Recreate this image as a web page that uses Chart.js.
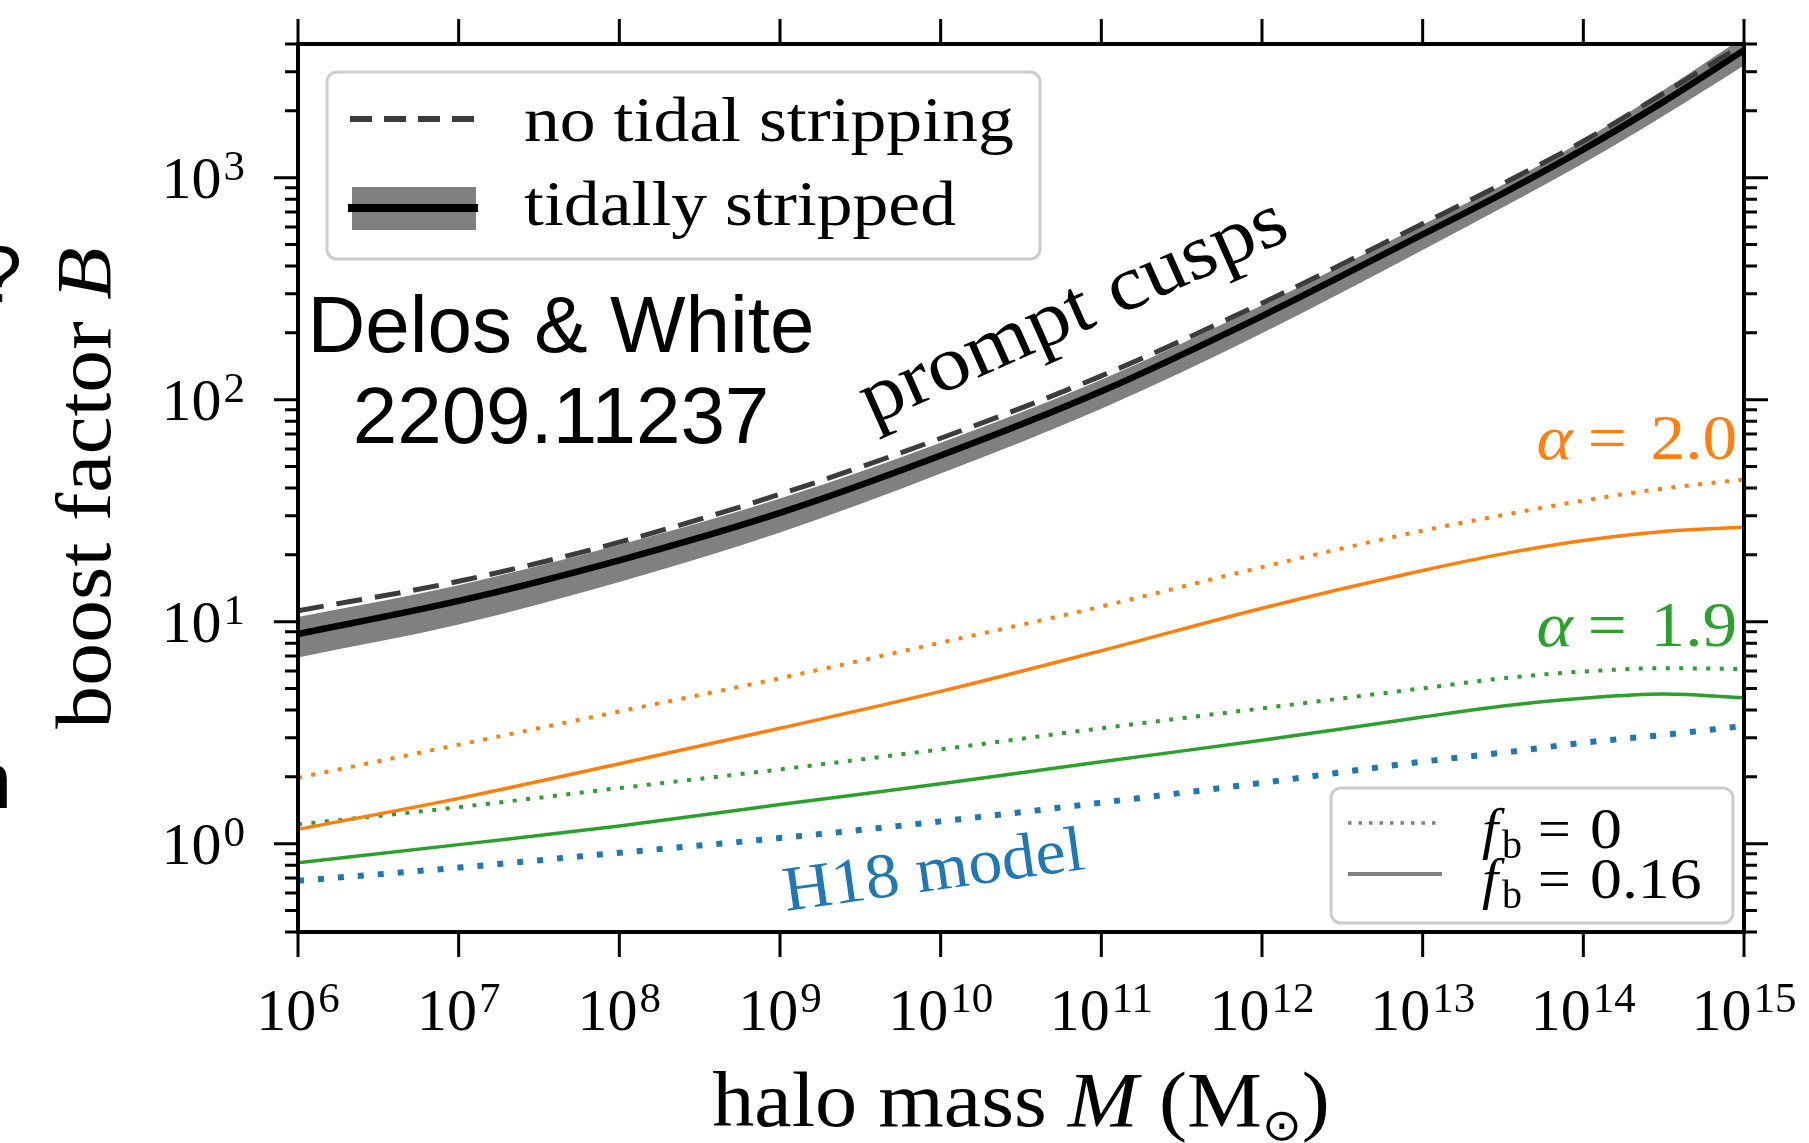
<!DOCTYPE html>
<html>
<head>
<meta charset="utf-8">
<script src="https://cdn.jsdelivr.net/npm/chart.js@4.4.1/dist/chart.umd.min.js"></script>
<style>
  html, body { margin: 0; padding: 0; background: #fff; }
  canvas { display: block; }
</style>
</head>
<body>
<canvas id="boostChart" width="1809" height="1143"></canvas>
<script>
// halo masses (Msun) where each curve is sampled
const massGrid = [1e6, 1e7, 1e8, 1e9, 1e10, 1e11, 1e12, 1e13, 3.16e13, 1e14, 3.16e14, 1e15];

// prompt cusps, no tidal stripping (dashed)
const cuspsNoStripping = [11.2, 15.2, 22.8, 37.5, 67, 128, 272, 620, 940, 1460, 2400, 4000];
// prompt cusps, tidally stripped (solid) with its spread
const cuspsStripped = [8.8, 12.4, 18.9, 30.9, 56, 109, 238, 555, 850, 1340, 2200, 3750];
const cuspsStrippedHigh = [10.5, 14.6, 22.2, 35.9, 64, 123, 266, 615, 930, 1470, 2480, 4300];
const cuspsStrippedLow = [6.9, 9.7, 15.1, 25.2, 46.5, 91, 199, 472, 735, 1160, 1900, 3200];

// alpha = 2.0, fb = 0 and fb = 0.16
const alpha20Fb0 = [1.98, 2.79, 3.94, 5.56, 8.04, 11.7, 17.6, 25.7, 30.2, 35.1, 39.8, 43.7];
const alpha20Fb16 = [1.16, 1.60, 2.29, 3.31, 4.85, 7.4, 11.5, 17.0, 20.2, 23.2, 25.5, 26.6];
// alpha = 1.9, fb = 0 and fb = 0.16
const alpha19Fb0 = [1.22, 1.46, 1.78, 2.16, 2.66, 3.31, 4.07, 5.01, 5.56, 5.96, 6.17, 6.12];
const alpha19Fb16 = [0.82, 0.99, 1.20, 1.50, 1.86, 2.34, 2.92, 3.72, 4.17, 4.52, 4.72, 4.54];
// H18 model
const h18Model = [0.68, 0.78, 0.91, 1.06, 1.26, 1.53, 1.88, 2.34, 2.57, 2.85, 3.09, 3.39];

// axis tick exponents
const massExponents = [6, 7, 8, 9, 10, 11, 12, 13, 14, 15];
const boostExponents = [0, 1, 2, 3];

const ORANGE = '#ff7f0e';
const GREEN = '#2ca02c';
const BLUE = '#1f77b4';
const SERIF = '"Liberation Serif", "DejaVu Serif", serif';
const SANS = '"Liberation Sans", Arial, sans-serif';

const pts = ys => massGrid.map((m, i) => ({ x: m, y: ys[i] }));

function curve(ys, color, width, dash, order) {
  return {
    data: pts(ys),
    borderColor: color,
    borderWidth: width,
    borderDash: dash || [],
    borderCapStyle: 'butt',
    pointRadius: 0,
    fill: false,
    cubicInterpolationMode: 'monotone',
    order: order
  };
}

// draw a row of text pieces (different fonts / baseline shifts) as one label
function drawRuns(ctx, parts, x, y, align, sx) {
  sx = sx || 1;
  let total = 0;
  parts.forEach(p => {
    ctx.font = p.font;
    p.w = ctx.measureText(p.text).width;
    total += p.w + (p.gap || 0);
  });
  let cx = align === 'center' ? -total / 2 : (align === 'right' ? -total : 0);
  ctx.save();
  ctx.translate(x, y);
  ctx.scale(sx, 1);
  ctx.textAlign = 'left';
  ctx.textBaseline = 'alphabetic';
  parts.forEach(p => {
    ctx.font = p.font;
    ctx.fillText(p.text, cx, p.dy || 0);
    cx += p.w + (p.gap || 0);
  });
  ctx.restore();
}

function powerLabel(exp) {
  return [
    { text: '10', font: '60px ' + SERIF, gap: 2 },
    { text: String(exp), font: '43px ' + SERIF, dy: -18 }
  ];
}

// f_b legend row: each piece placed at its own x
function fbRow(ctx, value, y) {
  ctx.textAlign = 'left';
  ctx.textBaseline = 'alphabetic';
  ctx.font = 'italic 58px ' + SERIF;
  ctx.fillText('f', 1482, y);
  ctx.font = '40px ' + SERIF;
  ctx.fillText('b', 1502, y + 10);
  ctx.font = '58px ' + SERIF;
  ctx.fillText('=', 1538, y);
  ctx.save();
  ctx.translate(1590, y);
  ctx.scale(1.1, 1);
  ctx.fillText(value, 0, 0);
  ctx.restore();
}

const frameAndLabels = {
  id: 'frameAndLabels',
  afterDraw(chart) {
    const ctx = chart.ctx;
    const xs = chart.scales.x;
    const ys = chart.scales.y;
    const a = chart.chartArea;
    ctx.save();

    // spines
    ctx.strokeStyle = '#000';
    ctx.lineWidth = 4;
    ctx.strokeRect(a.left, a.top, a.right - a.left, a.bottom - a.top);

    // x ticks on bottom and top
    ctx.lineWidth = 3;
    ctx.beginPath();
    massExponents.forEach(e => {
      const px = xs.getPixelForValue(Math.pow(10, e));
      ctx.moveTo(px, a.bottom); ctx.lineTo(px, a.bottom + 25);
      ctx.moveTo(px, a.top); ctx.lineTo(px, a.top - 25);
    });
    ctx.stroke();

    // y ticks, major and minor, on both sides
    ctx.beginPath();
    for (let n = -1; n <= 3; n++) {
      for (let k = 1; k <= 9; k++) {
        const v = k * Math.pow(10, n);
        if (v < ys.min * 0.999 || v > ys.max * 1.001) continue;
        const py = ys.getPixelForValue(v);
        const len = k === 1 ? 24 : 13;
        ctx.moveTo(a.left, py); ctx.lineTo(a.left - len, py);
        ctx.moveTo(a.right, py); ctx.lineTo(a.right + len, py);
      }
    }
    ctx.stroke();

    // tick labels
    ctx.fillStyle = '#000';
    massExponents.forEach(e => {
      drawRuns(ctx, powerLabel(e), xs.getPixelForValue(Math.pow(10, e)), a.bottom + 98, 'center');
    });
    boostExponents.forEach(e => {
      drawRuns(ctx, powerLabel(e), a.left - 53, ys.getPixelForValue(Math.pow(10, e)) + 20, 'right');
    });

    // axis titles
    drawRuns(ctx, [
      { text: 'halo mass ', font: '78px ' + SERIF },
      { text: 'M', font: 'italic 78px ' + SERIF },
      { text: ' (M', font: '78px ' + SERIF },
      { text: '\u2299', font: '44px "DejaVu Sans", sans-serif', dy: 14 },
      { text: ')', font: '78px ' + SERIF }
    ], (a.left + a.right) / 2, 1126, 'center', 1.08);

    ctx.save();
    ctx.translate(110, (a.top + a.bottom) / 2);
    ctx.rotate(-Math.PI / 2);
    drawRuns(ctx, [
      { text: 'boost factor ', font: '78px ' + SERIF },
      { text: 'B', font: 'italic 78px ' + SERIF }
    ], 0, 0, 'center', 1.1);
    ctx.restore();

    // curve annotations
    ctx.save();
    ctx.translate(872, 425);
    ctx.rotate(-24 * Math.PI / 180);
    drawRuns(ctx, [{ text: 'prompt cusps', font: '78px ' + SERIF }], 0, 0, 'left', 1.1);
    ctx.restore();

    ctx.fillStyle = BLUE;
    ctx.save();
    ctx.translate(786, 911);
    ctx.rotate(-8 * Math.PI / 180);
    drawRuns(ctx, [{ text: 'H18 model', font: '64px ' + SERIF }], 0, 0, 'left', 1.06);
    ctx.restore();

    ctx.fillStyle = ORANGE;
    drawRuns(ctx, [
      { text: '\u03b1', font: 'italic 64px ' + SERIF, gap: 14 },
      { text: '= ', font: '64px ' + SERIF, gap: 6 },
      { text: '2.0', font: '64px ' + SERIF }
    ], 1737, 459, 'right', 1.08);
    ctx.fillStyle = GREEN;
    drawRuns(ctx, [
      { text: '\u03b1', font: 'italic 64px ' + SERIF, gap: 14 },
      { text: '= ', font: '64px ' + SERIF, gap: 6 },
      { text: '1.9', font: '64px ' + SERIF }
    ], 1737, 646, 'right', 1.08);

    // paper reference
    ctx.fillStyle = '#000';
    ctx.font = '80px ' + SANS;
    ctx.textAlign = 'center';
    ctx.fillText('Delos & White', 561, 352);
    ctx.fillText('2209.11237', 561, 443);
    ctx.textAlign = 'right';
    ctx.fillText('?', 22, 302);
    ctx.fillText('n', 12, 808);

    // legend: stripping
    ctx.fillStyle = 'rgba(255,255,255,0.85)';
    ctx.strokeStyle = '#cccccc';
    ctx.lineWidth = 3;
    ctx.beginPath();
    ctx.roundRect(327, 72, 713, 187, 10);
    ctx.fill();
    ctx.stroke();

    ctx.strokeStyle = '#3c3c3c';
    ctx.lineWidth = 6;
    ctx.setLineDash([22, 12]);
    ctx.beginPath();
    ctx.moveTo(350, 119); ctx.lineTo(476, 119);
    ctx.stroke();
    ctx.setLineDash([]);
    ctx.fillStyle = '#808080';
    ctx.fillRect(352, 187, 124, 43);
    ctx.strokeStyle = '#000';
    ctx.lineWidth = 8;
    ctx.beginPath();
    ctx.moveTo(348, 208); ctx.lineTo(478, 208);
    ctx.stroke();

    ctx.fillStyle = '#000';
    drawRuns(ctx, [{ text: 'no tidal stripping', font: '64px ' + SERIF }], 524, 141, 'left', 1.12);
    drawRuns(ctx, [{ text: 'tidally stripped', font: '64px ' + SERIF }], 524, 225, 'left', 1.12);

    // legend: baryon fraction
    ctx.fillStyle = 'rgba(255,255,255,0.85)';
    ctx.strokeStyle = '#cccccc';
    ctx.lineWidth = 3;
    ctx.beginPath();
    ctx.roundRect(1331, 788, 402, 135, 10);
    ctx.fill();
    ctx.stroke();

    ctx.strokeStyle = '#808080';
    ctx.lineWidth = 3.5;
    ctx.setLineDash([3.5, 7]);
    ctx.beginPath();
    ctx.moveTo(1348, 823); ctx.lineTo(1442, 823);
    ctx.stroke();
    ctx.setLineDash([]);
    ctx.lineWidth = 4;
    ctx.beginPath();
    ctx.moveTo(1348, 874); ctx.lineTo(1442, 874);
    ctx.stroke();

    ctx.fillStyle = '#000';
    fbRow(ctx, '0', 848);
    fbRow(ctx, '0.16', 898);

    ctx.restore();
  }
};

new Chart(document.getElementById('boostChart'), {
  type: 'line',
  data: {
    datasets: [
      { data: pts(cuspsStrippedLow), borderWidth: 0, pointRadius: 0, fill: false,
        cubicInterpolationMode: 'monotone', order: 20 },
      { data: pts(cuspsStrippedHigh), borderWidth: 0, pointRadius: 0, fill: '-1',
        backgroundColor: '#808080', cubicInterpolationMode: 'monotone', order: 19 },
      curve(h18Model, BLUE, 6, [6, 14], 8),
      curve(alpha19Fb0, GREEN, 4, [4, 9.5], 7),
      curve(alpha19Fb16, GREEN, 3.5, null, 6),
      curve(alpha20Fb0, ORANGE, 4, [4, 9.5], 5),
      curve(alpha20Fb16, ORANGE, 3.5, null, 4),
      curve(cuspsStripped, '#000', 6.5, null, 2),
      curve(cuspsNoStripping, '#3c3c3c', 5, [26, 13], 1)
    ]
  },
  options: {
    responsive: false,
    animation: false,
    devicePixelRatio: 1,
    layout: { padding: { top: 44, right: 65, left: 0, bottom: 0 } },
    scales: {
      x: {
        type: 'logarithmic',
        min: 1e6,
        max: 1e15,
        grid: { display: false },
        border: { display: false },
        ticks: { display: false },
        afterFit(scale) { scale.height = 211; }
      },
      y: {
        type: 'logarithmic',
        min: 0.4,
        max: 4000,
        grid: { display: false },
        border: { display: false },
        ticks: { display: false },
        afterFit(scale) { scale.width = 298; }
      }
    },
    plugins: {
      legend: { display: false },
      tooltip: { enabled: false }
    }
  },
  plugins: [frameAndLabels]
});
</script>
</body>
</html>
